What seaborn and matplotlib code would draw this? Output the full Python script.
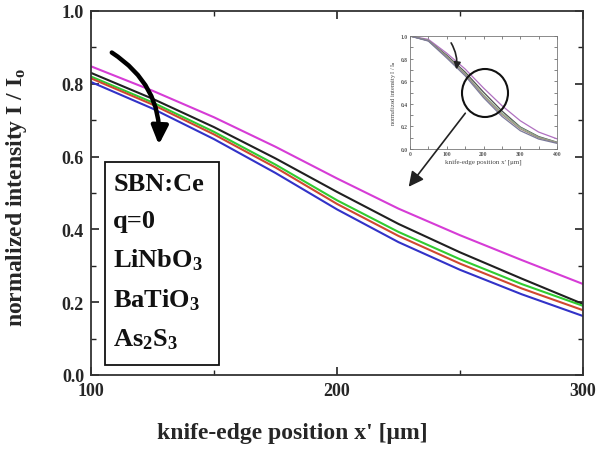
import matplotlib
matplotlib.use("Agg")
import matplotlib.pyplot as plt
import seaborn as sns
import pandas as pd
from matplotlib.patches import Rectangle, Ellipse, FancyArrowPatch
from matplotlib.ticker import MultipleLocator

# ---- data ----
x_pos = [100, 125, 150, 175, 200, 225, 250, 275, 300]
magenta_vals = [0.848, 0.781, 0.708, 0.627, 0.540, 0.457, 0.384, 0.316, 0.250]
black_vals = [0.830, 0.759, 0.681, 0.595, 0.503, 0.415, 0.337, 0.265, 0.195]
green_vals = [0.820, 0.749, 0.668, 0.578, 0.480, 0.393, 0.318, 0.250, 0.190]
red_vals = [0.815, 0.743, 0.661, 0.570, 0.470, 0.382, 0.306, 0.238, 0.178]
blue_vals = [0.805, 0.732, 0.648, 0.555, 0.455, 0.365, 0.289, 0.222, 0.162]

inset_x = [0, 50, 100, 150, 200, 250, 300, 350, 400]
inset_magenta = [1.0, 0.97, 0.848, 0.708, 0.540, 0.384, 0.250, 0.150, 0.090]
inset_black = [1.0, 0.96, 0.830, 0.681, 0.503, 0.337, 0.195, 0.110, 0.060]
inset_green = [1.0, 0.96, 0.820, 0.668, 0.480, 0.318, 0.190, 0.105, 0.058]
inset_red = [1.0, 0.958, 0.815, 0.661, 0.470, 0.306, 0.178, 0.098, 0.055]
inset_blue = [1.0, 0.955, 0.805, 0.648, 0.455, 0.289, 0.162, 0.088, 0.050]

series_names = ["magenta", "black", "green", "red", "blue"]
colors = ["#d63cd6", "#202020", "#30cc30", "#d04830", "#3232c8"]
legend_lines = ["SBN:Ce", "q=0", r"LiNbO$_3$", r"BaTiO$_3$", r"As$_2$S$_3$"]

main_series = [magenta_vals, black_vals, green_vals, red_vals, blue_vals]
inset_series = [inset_magenta, inset_black, inset_green, inset_red, inset_blue]

rows = []
for name, vals in zip(series_names, main_series):
    for xv, yv in zip(x_pos, vals):
        rows.append({"x": xv, "y": yv, "s": name})
df = pd.DataFrame(rows)

rows_i = []
for name, vals in zip(series_names, inset_series):
    for xv, yv in zip(inset_x, vals):
        rows_i.append({"x": xv, "y": yv, "s": name})
dfi = pd.DataFrame(rows_i)

sns.set_style("ticks")
plt.rcParams["font.family"] = ["Liberation Serif", "DejaVu Serif"]
plt.rcParams["font.weight"] = "bold"
plt.rcParams["mathtext.fontset"] = "custom"
plt.rcParams["mathtext.rm"] = "Liberation Serif:bold"
plt.rcParams["mathtext.it"] = "Liberation Serif:bold"
plt.rcParams["mathtext.bf"] = "Liberation Serif:bold"

fig = plt.figure(figsize=(6.01, 4.52), dpi=100)
ax = fig.add_axes([91 / 601, 1 - 376 / 452, 492 / 601, 364 / 452])

palette = dict(zip(series_names, colors))
sns.lineplot(data=df, x="x", y="y", hue="s", palette=palette, ax=ax,
             legend=False, linewidth=1.5)

ax.set_xlim(100, 300)
ax.set_ylim(0, 1.0)
ax.xaxis.set_major_locator(MultipleLocator(100))
ax.xaxis.set_minor_locator(MultipleLocator(50))
ax.yaxis.set_major_locator(MultipleLocator(0.2))
ax.yaxis.set_minor_locator(MultipleLocator(0.1))
ax.set_yticklabels([f"{v:.1f}" for v in ax.get_yticks()])
ax.tick_params(which="both", direction="in", top=True, right=True, color="#222222")
ax.tick_params(which="major", length=6, width=1.2, labelsize=13, pad=5)
ax.tick_params(which="minor", length=3.5, width=1.0)
for t in ax.get_xticklabels() + ax.get_yticklabels():
    t.set_fontweight("bold")
for sp in ax.spines.values():
    sp.set_linewidth(1.3)
    sp.set_color("#333333")

ax.set_xlabel(u"knife-edge position x' [\u03bcm]", fontsize=17, fontweight="bold")
ax.xaxis.set_label_coords(0.41, -0.13)
ax.set_ylabel(r"normalized intensity I / I$_{\rm o}$", fontsize=17, fontweight="bold")
ax.yaxis.set_label_coords(-0.125, 0.49)

# legend-like text box
ax.add_patch(Rectangle((0.028, 0.027), 0.232, 0.558, transform=ax.transAxes,
                       facecolor="white", edgecolor="#111111", lw=1.3, zorder=5))
for ty, txt in zip([0.525, 0.425, 0.318, 0.207, 0.100], legend_lines):
    ax.text(0.045, ty, txt, transform=ax.transAxes, fontsize=19, fontweight="bold",
            va="center", ha="left", zorder=6, color="#111111")

# curved arrow
ax.annotate("", xy=(127.5, 0.625), xytext=(107.5, 0.89),
            arrowprops=dict(arrowstyle="-|>,head_length=1.1,head_width=0.5",
                            connectionstyle="arc3,rad=-0.3", color="black", lw=3.2))

# inset
axi = fig.add_axes([410 / 601, 1 - 150 / 452, 147 / 601, 113 / 452])
inset_colors = ["#b070c0", "#505050", "#90b090", "#a09080", "#7a7a9a"]
sns.lineplot(data=dfi, x="x", y="y", hue="s", palette=dict(zip(series_names, inset_colors)),
             ax=axi, legend=False, linewidth=0.9)
axi.set_xlim(0, 400)
axi.set_ylim(0, 1.0)
axi.xaxis.set_major_locator(MultipleLocator(100))
axi.xaxis.set_minor_locator(MultipleLocator(50))
axi.yaxis.set_major_locator(MultipleLocator(0.2))
axi.yaxis.set_minor_locator(MultipleLocator(0.1))
axi.set_yticklabels([f"{v:.1f}" for v in axi.get_yticks()])
axi.tick_params(which="both", direction="in", top=True, right=True,
                labelsize=4, length=2, width=0.5, pad=1.5, colors="#555555")
for sp in axi.spines.values():
    sp.set_linewidth(0.6)
    sp.set_color("#777777")
axi.set_xlabel(u"knife-edge position x' [\u03bcm]", fontsize=5, labelpad=2, color="#444444")
axi.set_ylabel(r"normalized intensity I / I$_{\rm o}$", fontsize=4.5, labelpad=2, color="#444444")
axi.annotate("", xy=(125, 0.68), xytext=(108, 0.96),
             arrowprops=dict(arrowstyle="-|>,head_length=0.4,head_width=0.2",
                             connectionstyle="arc3,rad=-0.2", color="#222222", lw=1.2))

fig.add_artist(Ellipse((485 / 601, 1 - 94 / 452), 46 / 601, 48 / 452,
                       transform=fig.transFigure, fill=False, edgecolor="#111111", lw=1.5))
fig.add_artist(FancyArrowPatch(
    (467 / 601, 1 - 112 / 452), (407 / 601, 1 - 190 / 452), transform=fig.transFigure,
    arrowstyle="-|>,head_length=6,head_width=3", mutation_scale=1.5, color="#222222", lw=1.2))

fig.savefig("out.png", dpi=100)
